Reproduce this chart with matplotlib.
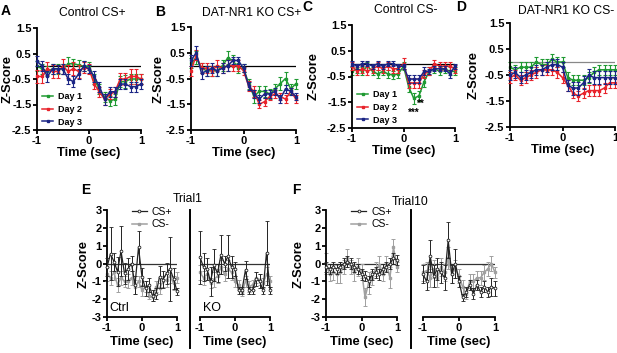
import numpy as np
import matplotlib
matplotlib.use('Agg')
import matplotlib.pyplot as plt
from matplotlib.lines import Line2D

plt.rcParams['font.family'] = ['Liberation Sans', 'DejaVu Sans']
plt.rcParams['axes.linewidth'] = 1.3

# ---------------------------------------------------------------- data
t = [-1.0, -0.9, -0.8, -0.7, -0.6, -0.5, -0.4, -0.3, -0.2, -0.1, 0.0,
     0.1, 0.2, 0.3, 0.4, 0.5, 0.6, 0.7, 0.8, 0.9, 1.0]
day_labels = ['Day 1', 'Day 2', 'Day 3']
day_colors = ['#1f9a32', '#e8232b', '#1b2585']

# panel A  control CS+
a_day1 = [0.0, -0.1, -0.2, -0.1, -0.1, -0.1, 0.1, 0.1, 0.05, 0.0, 0.0, -0.5, -0.9, -1.2, -1.35, -1.3, -0.6, -0.6, -0.5, -0.5, -0.5]
a_day2 = [-0.4, -0.4, -0.1, -0.2, -0.2, 0.0, -0.2, -0.1, -0.2, -0.05, -0.1, -0.7, -1.0, -1.3, -1.1, -1.0, -0.5, -0.5, -0.4, -0.4, -0.5]
a_day3 = [0.2, 0.0, -0.4, -0.1, -0.1, -0.1, -0.5, -0.6, -0.3, 0.0, -0.1, -0.4, -0.8, -1.3, -1.0, -1.0, -0.7, -0.7, -0.8, -0.8, -0.7]
a_err1 = [0.2, 0.2, 0.2, 0.2, 0.2, 0.2, 0.25, 0.2, 0.2, 0.2, 0.15, 0.2, 0.2, 0.2, 0.2, 0.2, 0.2, 0.25, 0.2, 0.2, 0.2]
a_err2 = [0.25, 0.25, 0.25, 0.25, 0.25, 0.3, 0.25, 0.25, 0.25, 0.2, 0.2, 0.2, 0.2, 0.2, 0.2, 0.2, 0.25, 0.25, 0.3, 0.3, 0.2]
a_err3 = [0.2, 0.2, 0.2, 0.2, 0.15, 0.2, 0.2, 0.2, 0.2, 0.2, 0.15, 0.2, 0.2, 0.2, 0.2, 0.2, 0.2, 0.2, 0.2, 0.2, 0.2]

# panel B  DAT-NR1 KO CS+
b_day1 = [0.1, 0.3, -0.1, -0.2, -0.2, -0.2, 0.0, 0.3, 0.2, -0.1, -0.1, -0.7, -1.2, -1.0, -1.0, -1.1, -0.9, -0.7, -0.5, -0.9, -0.7]
b_day2 = [-0.2, 0.4, -0.1, -0.1, -0.2, 0.0, -0.1, 0.0, 0.0, 0.0, -0.2, -0.8, -1.0, -1.5, -1.4, -1.2, -1.1, -1.2, -1.3, -1.0, -1.3]
b_day3 = [0.2, 0.5, -0.3, -0.2, -0.1, -0.2, -0.1, 0.0, 0.2, 0.2, -0.1, -0.8, -1.1, -1.3, -1.1, -1.1, -1.0, -1.3, -0.9, -1.0, -1.2]
b_err1 = [0.2, 0.25, 0.2, 0.2, 0.2, 0.2, 0.2, 0.25, 0.2, 0.2, 0.15, 0.2, 0.25, 0.2, 0.2, 0.2, 0.2, 0.25, 0.25, 0.2, 0.2]
b_err2 = [0.2, 0.2, 0.2, 0.2, 0.2, 0.2, 0.2, 0.2, 0.2, 0.2, 0.15, 0.2, 0.2, 0.15, 0.15, 0.15, 0.15, 0.15, 0.15, 0.15, 0.15]
b_err3 = [0.2, 0.25, 0.2, 0.2, 0.2, 0.2, 0.2, 0.2, 0.15, 0.15, 0.15, 0.15, 0.15, 0.15, 0.15, 0.15, 0.15, 0.15, 0.15, 0.15, 0.15]

# panel C  control CS-
c_day1 = [-0.3, -0.2, -0.3, -0.1, -0.3, -0.4, -0.3, -0.4, -0.45, -0.4, -0.1, -0.9, -1.35, -1.25, -0.7, -0.3, -0.2, -0.3, -0.2, -0.3, -0.3]
c_day2 = [-0.1, -0.3, -0.2, -0.3, -0.2, -0.1, -0.2, -0.1, -0.2, -0.2, 0.0, -0.75, -0.75, -0.75, -0.4, -0.3, 0.0, -0.1, -0.1, -0.1, -0.2]
c_day3 = [0.0, -0.1, 0.0, 0.0, -0.1, 0.0, -0.1, 0.0, 0.0, -0.1, -0.1, -0.6, -0.6, -0.6, -0.3, -0.3, -0.2, -0.2, -0.2, -0.4, -0.1]
c_err1 = [0.15, 0.15, 0.15, 0.15, 0.15, 0.15, 0.15, 0.15, 0.15, 0.15, 0.15, 0.2, 0.2, 0.2, 0.2, 0.15, 0.15, 0.15, 0.15, 0.15, 0.15]
c_err2 = [0.15, 0.15, 0.15, 0.15, 0.15, 0.15, 0.15, 0.15, 0.15, 0.15, 0.2, 0.2, 0.2, 0.2, 0.15, 0.15, 0.15, 0.15, 0.15, 0.15, 0.15]
c_err3 = [0.1, 0.1, 0.1, 0.1, 0.1, 0.1, 0.1, 0.1, 0.1, 0.1, 0.1, 0.15, 0.15, 0.15, 0.15, 0.1, 0.1, 0.1, 0.1, 0.15, 0.1]

# panel D  DAT-NR1 KO CS-
d_day1 = [-0.2, -0.3, -0.2, -0.2, -0.2, 0.0, -0.1, -0.1, 0.1, 0.0, 0.0, -0.6, -0.7, -0.7, -0.7, -0.6, -0.4, -0.3, -0.3, -0.3, -0.3]
d_day2 = [-0.6, -0.5, -0.7, -0.6, -0.5, -0.4, -0.3, -0.3, -0.3, -0.4, -0.6, -0.9, -1.2, -1.3, -1.2, -1.1, -1.1, -1.1, -1.0, -0.8, -0.8]
d_day3 = [-0.5, -0.4, -0.6, -0.5, -0.4, -0.3, -0.3, -0.2, -0.1, -0.1, -0.2, -0.9, -1.0, -1.0, -0.8, -0.5, -0.6, -0.6, -0.6, -0.6, -0.6]
d_err1 = [0.2, 0.2, 0.2, 0.2, 0.2, 0.2, 0.2, 0.2, 0.2, 0.2, 0.2, 0.2, 0.2, 0.2, 0.2, 0.2, 0.2, 0.2, 0.2, 0.2, 0.2]
d_err2 = [0.2, 0.2, 0.2, 0.2, 0.2, 0.2, 0.2, 0.2, 0.2, 0.2, 0.2, 0.2, 0.2, 0.2, 0.2, 0.2, 0.2, 0.2, 0.2, 0.2, 0.2]
d_err3 = [0.2, 0.2, 0.2, 0.2, 0.2, 0.2, 0.2, 0.2, 0.2, 0.2, 0.2, 0.2, 0.25, 0.25, 0.25, 0.25, 0.25, 0.25, 0.25, 0.25, 0.25]

# panel E  trial 1, ctrl and KO
e_ctrl_csp = [-0.2, 0.55, 0.1, -0.45, 0.7, -0.55, -0.3, 0.0, -1.2, 0.9, -0.75, -1.4, -1.2, -1.8, -1.7, -0.75, -0.9, -0.55, -0.3, -0.85, -1.55]
e_ctrl_csp_err = [0.5, 1.5, 0.5, 0.8, 1.4, 0.6, 0.6, 0.4, 0.5, 0.9, 0.5, 0.4, 0.4, 0.3, 0.3, 0.6, 0.5, 0.6, 1.8, 0.6, 0.2]
e_ctrl_csm = [-0.6, -0.8, -0.5, -1.2, -0.8, -1.0, -1.0, -0.8, -1.3, -1.0, -1.5, -1.3, -1.8, -1.9, -1.3, -1.4, -1.0, -0.9, -0.7, -1.1, -0.8]
e_ctrl_csm_err = [0.4, 0.4, 0.4, 0.4, 0.4, 0.3, 0.4, 0.4, 0.4, 0.3, 0.3, 0.3, 0.2, 0.2, 0.3, 0.3, 0.3, 0.4, 0.4, 0.4, 0.3]
e_ko_csp = [0.35, -0.2, -0.3, -1.0, -0.1, -0.55, 0.5, 0.0, 0.4, -0.2, -0.3, -1.5, -1.5, -0.35, -1.5, -1.5, -0.85, -1.0, -1.5, 0.6, -1.5]
e_ko_csp_err = [1.5, 0.8, 0.6, 0.8, 0.9, 0.5, 1.1, 0.4, 1.2, 0.6, 0.4, 0.2, 0.2, 0.5, 0.2, 0.2, 0.4, 0.4, 0.2, 1.8, 0.2]
e_ko_csm = [-0.5, -0.8, -0.6, -1.1, -0.9, -0.7, -0.2, -0.6, -0.3, -0.5, -1.0, -1.2, -1.6, -1.0, -1.3, -1.2, -0.8, -0.9, -1.1, -0.6, -1.0]
e_ko_csm_err = [0.4, 0.4, 0.3, 0.3, 0.4, 0.4, 0.4, 0.4, 0.5, 0.4, 0.3, 0.3, 0.2, 0.3, 0.3, 0.3, 0.3, 0.3, 0.3, 0.4, 0.3]

# panel F  trial 10, ctrl and KO
f_ctrl_csp = [-0.2, -0.3, -0.2, -0.3, -0.2, 0.0, 0.1, 0.0, -0.2, -0.3, -0.6, -0.7, -1.0, -0.6, -0.5, -0.6, -0.3, -0.2, 0.0, 0.3, 0.2]
f_ctrl_csp_err = [0.3, 0.3, 0.3, 0.3, 0.3, 0.3, 0.3, 0.3, 0.3, 0.3, 0.3, 0.3, 0.3, 0.3, 0.3, 0.3, 0.3, 0.3, 0.3, 0.3, 0.3]
f_ctrl_csm = [0.0, -0.6, -0.5, -0.6, -0.5, -0.2, 0.3, -0.2, -0.5, -0.2, -0.4, -1.9, -1.1, -0.8, -0.3, -0.1, -0.6, 0.0, -0.8, 0.9, -0.2]
f_ctrl_csm_err = [0.6, 0.4, 0.4, 0.5, 0.6, 0.4, 0.5, 0.4, 0.5, 0.5, 0.4, 0.5, 0.6, 0.4, 0.4, 0.5, 0.4, 0.4, 0.6, 0.5, 0.3]
f_ko_csp = [-0.6, -1.0, 0.4, -0.7, -0.3, -0.5, -0.8, 1.3, -0.6, 0.0, -1.0, -1.9, -1.6, -1.2, -1.7, -1.2, -1.6, -1.3, -1.6, -1.3, -1.4]
f_ko_csp_err = [0.5, 0.5, 0.9, 0.6, 0.6, 0.6, 0.7, 1.0, 0.5, 0.8, 0.3, 0.2, 0.3, 0.3, 0.3, 0.3, 0.3, 0.3, 0.3, 0.5, 0.4]
f_ko_csm = [-0.5, -0.4, -0.8, -0.3, -0.8, -0.2, -0.5, 0.3, -0.6, -0.3, -0.7, -1.3, -1.7, -1.0, -1.0, -0.8, -0.8, -0.5, -0.3, 0.0, -0.5]
f_ko_csm_err = [0.5, 0.5, 0.5, 0.5, 0.5, 0.5, 0.5, 0.6, 0.5, 0.5, 0.4, 0.4, 0.3, 0.4, 0.4, 0.4, 0.4, 0.4, 0.4, 0.4, 0.3]

# ---------------------------------------------------------------- figure
W, H = 617, 353
fig = plt.figure(figsize=(W / 100, H / 100), dpi=100)

def box(x0, y0, x1, y1):
    # pixel box -> figure fraction
    return [x0 / W, 1 - y1 / H, (x1 - x0) / W, (y1 - y0) / H]

tick_fs = 8.0
lab_fs = 9.3
title_fs = 8.7

def style(ax, yticks, ylim, left=True):
    ax.set_xlim(-1, 1)
    ax.set_ylim(*ylim)
    ax.set_xticks([-1, 0, 1])
    ax.set_xticklabels(['-1', '0', '1'])
    ax.spines['top'].set_visible(False)
    ax.spines['right'].set_visible(False)
    ax.tick_params(direction='out', length=3, width=1.3, labelsize=tick_fs, pad=1)
    for lab in ax.get_xticklabels():
        lab.set_fontweight('bold')
    if left:
        ax.set_yticks(yticks)
        ax.set_yticklabels([('%g' % v) for v in yticks], fontweight='bold')
    else:
        ax.spines['left'].set_visible(False)
        ax.set_yticks([])
    ax.patch.set_alpha(0)

top_boxes = [box(37, 28, 141, 130), box(191, 27, 296, 130), box(352, 25, 455, 128), box(510, 23, 615, 127)]
top_data = [
    ([a_day1, a_day2, a_day3], [a_err1, a_err2, a_err3]),
    ([b_day1, b_day2, b_day3], [b_err1, b_err2, b_err3]),
    ([c_day1, c_day2, c_day3], [c_err1, c_err2, c_err3]),
    ([d_day1, d_day2, d_day3], [d_err1, d_err2, d_err3]),
]
top_titles = ['Control CS+', 'DAT-NR1 KO CS+', 'Control CS-', 'DAT-NR1 KO CS-']
title_pos = [(92, 13), (252, 12.5), (406, 10), (566, 10.5)]
letters = ['A', 'B', 'C', 'D']
letter_pos = [(6, 11), (160, 12), (307, 7), (461, 7)]
# y-label anchor (right edge of the rotated text), axes fraction
ylab_x = [-0.222, -0.255, -0.31, -0.286]

for k in range(4):
    ax = fig.add_axes(top_boxes[k])
    series, errs = top_data[k]
    ax.axhline(0, color='#888888' if k == 3 else 'black', lw=0.9, zorder=1)
    for i in range(3):
        ax.errorbar(t, series[i], yerr=errs[i], color=day_colors[i], marker='s', ms=2.0,
                    lw=1.1, elinewidth=0.8, capsize=1.3, capthick=0.8, label=day_labels[i],
                    zorder=2 + i, clip_on=False)
    style(ax, [-2.5, -1.5, -0.5, 0.5, 1.5], (-2.5, 1.5))
    ax.set_xlabel('Time (sec)', fontsize=lab_fs, fontweight='bold')
    ax.xaxis.set_label_coords(0.5, -0.165)
    ax.set_ylabel('Z-Score', fontsize=lab_fs, fontweight='bold')
    ax.yaxis.set_label_coords(ylab_x[k], 0.5)
    fig.text(title_pos[k][0] / W, 1 - title_pos[k][1] / H, top_titles[k], fontsize=title_fs,
             ha='center', va='center')
    fig.text(letter_pos[k][0] / W, 1 - letter_pos[k][1] / H, letters[k], fontsize=10,
             fontweight='bold', ha='center', va='center')
    if k in (0, 2):
        handles = [Line2D([0], [0], color=day_colors[i], marker='s', ms=2.0, lw=1.1) for i in range(3)]
        ax.legend(handles, day_labels, loc='lower left', bbox_to_anchor=(0.0, -0.02),
                  frameon=False, handlelength=1.2, handletextpad=0.5, labelspacing=0.4,
                  prop={'size': 6.5, 'weight': 'bold'}, borderaxespad=0.2)
    if k == 2:
        ax.text(0.2, -1.92, '***', fontsize=7, fontweight='bold', ha='center', va='center')
        ax.text(0.34, -1.55, '**', fontsize=7, fontweight='bold', ha='center', va='center')

# ---------------------------------------------------------------- bottom panels
bot_boxes = [box(107, 210, 177, 317), box(200, 210, 270, 317),
             box(326, 210, 397, 317), box(423, 210, 495, 317)]
bot_data = [
    (e_ctrl_csp, e_ctrl_csp_err, e_ctrl_csm, e_ctrl_csm_err),
    (e_ko_csp, e_ko_csp_err, e_ko_csm, e_ko_csm_err),
    (f_ctrl_csp, f_ctrl_csp_err, f_ctrl_csm, f_ctrl_csm_err),
    (f_ko_csp, f_ko_csp_err, f_ko_csm, f_ko_csm_err),
]
csm_color = '#a0a0a0'
for k in range(4):
    ax = fig.add_axes(bot_boxes[k])
    csp, csp_e, csm, csm_e = bot_data[k]
    ax.axhline(0, color='#333333', lw=0.9, zorder=1)
    ax.errorbar(t, csm, yerr=csm_e, color=csm_color, marker='s', ms=1.8, lw=1.1,
                elinewidth=0.7, capsize=1.2, capthick=0.7, zorder=2, clip_on=False)
    ax.errorbar(t, csp, yerr=csp_e, color='#222222', marker='o', ms=2.0, mfc='white',
                mew=0.6, lw=0.9, elinewidth=0.7, capsize=1.2, capthick=0.7, zorder=3,
                clip_on=False)
    left = k in (0, 2)
    style(ax, [-3, -2, -1, 0, 1, 2, 3], (-3, 3), left=left)
    ax.set_xlabel('Time (sec)', fontsize=lab_fs, fontweight='bold')
    ax.xaxis.set_label_coords(0.5, -0.175)
    if left:
        ax.set_ylabel('Z-Score', fontsize=lab_fs, fontweight='bold')
        ax.yaxis.set_label_coords(-0.243 if k == 0 else -0.296, 0.5)
        handles = [Line2D([0], [0], color='#222222', marker='o', ms=2.0, mfc='white', mew=0.6, lw=0.9),
                   Line2D([0], [0], color=csm_color, marker='s', ms=1.8, lw=1.1)]
        ax.legend(handles, ['CS+', 'CS-'], loc='upper left', bbox_to_anchor=(0.3, 1.07),
                  frameon=False, handlelength=1.4, handletextpad=0.5, labelspacing=0.25,
                  prop={'size': 7.5}, borderaxespad=0.0)
    if k == 0:
        ax.text(-0.92, -2.5, 'Ctrl', fontsize=9, ha='left', va='center')
    if k == 1:
        ax.text(-0.92, -2.5, 'KO', fontsize=9, ha='left', va='center')

# separators between ctrl and KO
fig.add_artist(Line2D([190 / W, 190 / W], [1 - 210 / H, 1 - 348 / H], color='black', lw=1.4))
fig.add_artist(Line2D([411 / W, 411 / W], [1 - 210 / H, 1 - 348 / H], color='black', lw=1.4))

fig.text(188 / W, 1 - 199 / H, 'Trial1', fontsize=title_fs, ha='center', va='center')
fig.text(410 / W, 1 - 202 / H, 'Trial10', fontsize=title_fs, ha='center', va='center')
fig.text(86 / W, 1 - 190 / H, 'E', fontsize=10, fontweight='bold', ha='center', va='center')
fig.text(296 / W, 1 - 190 / H, 'F', fontsize=10, fontweight='bold', ha='center', va='center')

fig.savefig('out.png', dpi=100)
